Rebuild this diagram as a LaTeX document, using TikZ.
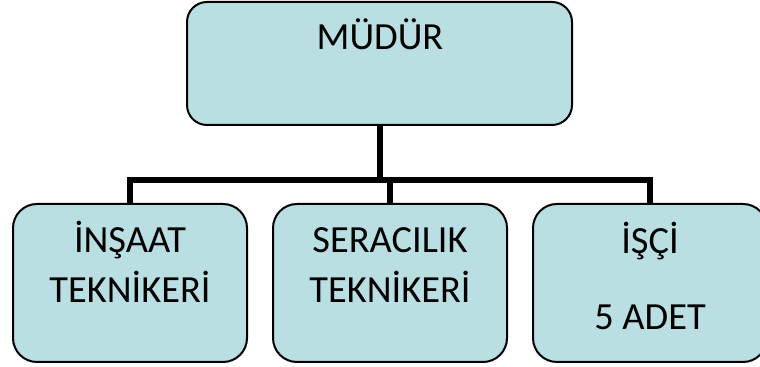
\documentclass[tikz,border=0pt]{standalone}
\usepackage{fontspec}
\setmainfont{Carlito}
\usetikzlibrary{positioning}
\definecolor{boxfill}{RGB}{185,223,227}

\begin{document}
\begin{tikzpicture}[
    x=0.5pt, y=-0.5pt,
    box/.style={rectangle, rounded corners=12pt, draw=black, line width=1pt, fill=boxfill, minimum width=117pt, minimum height=79pt, inner sep=0pt},
    head/.style={box, rounded corners=10pt, minimum width=192.5pt, minimum height=61.5pt},
    word/.style={anchor=base, inner sep=0pt, font=\fontsize{19.2}{23}\selectfont},
    link/.style={line width=3pt, line join=miter}
]
    \useasboundingbox (0,0) rectangle (760,367);
    \clip (0,0) rectangle (760,367);

    % Director
    \node[head] (mudur) at (379.5, 63.5) {};
    \node[word] (mudurText) at (380, 50) {MÜDÜR};

    % Staff
    \node[box] (insaat) at (130, 283) {};
    \node[box] (seracilik) at (390, 283) {};
    \node[box] (isci) at (650, 283) {};

    \node[word] (insaatA) at (130, 253) {İNŞAAT};
    \node[word] (insaatB) at (130, 303) {TEKNİKERİ};
    \node[word] (seracilikA) at (390, 253) {SERACILIK};
    \node[word] (seracilikB) at (390, 303) {TEKNİKERİ};
    \node[word] (isciA) at (650, 254) {İŞÇİ};
    \node[word] (isciB) at (650, 330) {5 ADET};

    % Connectors
    \coordinate (bus) at (380, 180);
    \draw[link] (mudur.south) -- (mudur.south |- bus);
    \draw[link] (insaat.north) -- (insaat.north |- bus) -- (isci.north |- bus) -- (isci.north);
    \draw[link] (seracilik.north) -- (seracilik.north |- bus);
\end{tikzpicture}
\end{document}
